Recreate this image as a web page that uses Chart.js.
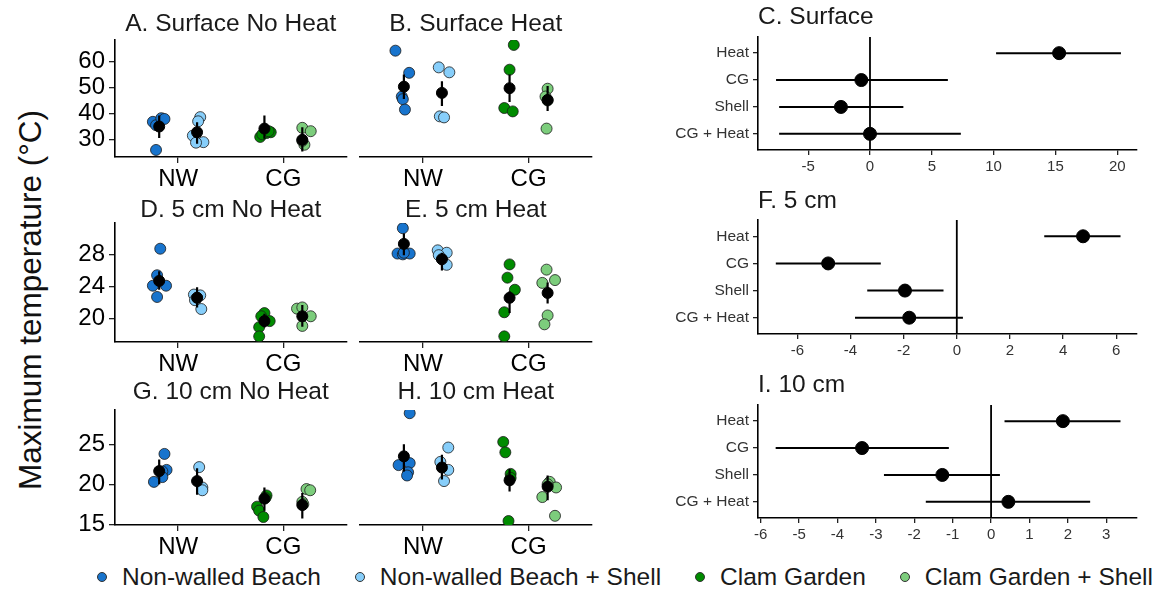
<!DOCTYPE html>
<html>
<head>
<meta charset="utf-8">
<script src="https://cdn.jsdelivr.net/npm/chart.js@4.4.1/dist/chart.umd.min.js"></script>
<style>
  body { margin: 0; background: #fff; width: 1161px; height: 590px; position: relative; overflow: hidden;
         font-family: "Liberation Sans", Arial, Helvetica, sans-serif; }
  canvas { position: absolute; }
  #ytitle { position: absolute; left: 30px; top: 300px; transform: translate(-50%, -50%) rotate(-90deg);
            font-size: 31.5px; white-space: nowrap; color: #111; }
  #legend { position: absolute; left: 97px; top: 563px; width: 1064px; height: 28px; display: flex;
            justify-content: flex-start; align-items: center; font-size: 24.5px; color: #1a1a1a;
            white-space: nowrap; }
  .item { display: flex; align-items: center; margin-right: 34px; flex: none; }
  .item:last-child { margin-right: 0; }
  .dot { width: 8px; height: 8px; border-radius: 50%; border: 1px solid #333; margin-right: 15px; flex: none; }
</style>
</head>
<body>
<div id="ytitle">Maximum temperature (°C)</div>
<div id="legend"></div>
<script>
// groups and sites
const groups = ['Non-walled Beach', 'Non-walled Beach + Shell', 'Clam Garden', 'Clam Garden + Shell'];
const groupColors = ['#1874CD', '#87CEFA', '#008B00', '#7CCD7C'];
const sites = ['NW', 'CG'];
const groupPos = [0.82, 1.18, 1.82, 2.18];

// A. Surface No Heat
const surfNoHeatPts = [
  [36.8, 35.5, 38.2, 37.9, 26.0],
  [38.6, 37.0, 31.5, 29.0, 28.8],
  [31.0, 32.5, 32.8, 32.0, 33.2],
  [34.5, 33.2, 28.0, 29.5]
];
const surfNoHeatJit = [
  [-0.06, -0.03, 0.02, 0.05, -0.03],
  [0.03, 0.01, -0.04, 0.06, -0.01],
  [-0.04, 0.02, 0.06, -0.02, 0.04],
  [0.0, 0.08, 0.02, 0.0]
];
const surfNoHeatMean = [35.0, 32.8, 34.2, 29.9];
const surfNoHeatLo = [30.6, 28.4, 30.3, 25.4];
const surfNoHeatHi = [39.2, 36.6, 39.2, 34.7];

// B. Surface Heat
const surfHeatPts = [
  [64.1, 55.6, 46.5, 45.5, 41.5],
  [57.7, 55.8, 38.9, 38.5],
  [66.3, 56.8, 42.1, 40.8],
  [49.5, 46.5, 45.0, 34.2]
];
const surfHeatJit = [
  [-0.08, 0.05, -0.02, -0.01, 0.01],
  [-0.03, 0.07, -0.02, 0.02],
  [0.04, 0.0, -0.05, 0.03],
  [0.0, -0.02, 0.0, -0.01]
];
const surfHeatMean = [50.3, 47.9, 49.7, 45.2];
const surfHeatLo = [45.6, 42.9, 44.4, 41.0];
const surfHeatHi = [55.0, 52.4, 55.0, 50.5];

// D. 5 cm No Heat
const cm5NoHeatPts = [
  [28.7, 25.4, 24.1, 24.1, 22.7],
  [23.0, 22.9, 22.6, 22.3, 21.2],
  [20.7, 20.3, 19.7, 18.95, 17.8],
  [21.25, 21.4, 20.3, 19.1]
];
const cm5NoHeatJit = [
  [0.01, -0.02, -0.06, 0.065, -0.02],
  [-0.03, 0.03, 0.0, -0.02, 0.04],
  [0.0, -0.03, 0.05, -0.05, -0.05],
  [-0.05, 0.0, 0.08, 0.0]
];
const cm5NoHeatMean = [24.7, 22.6, 19.7, 20.3];
const cm5NoHeatLo = [23.6, 21.4, 18.9, 19.0];
const cm5NoHeatHi = [25.9, 23.9, 20.6, 21.7];

// E. 5 cm Heat
const cm5HeatPts = [
  [31.25, 28.1, 28.0, 28.1, 28.2],
  [28.5, 28.2, 27.4, 26.7, 27.9],
  [26.75, 25.1, 23.6, 20.8, 17.8],
  [26.1, 24.8, 24.45, 20.4, 19.3]
];
const cm5HeatJit = [
  [-0.01, -0.06, -0.01, 0.055, 0.0],
  [-0.04, 0.045, 0.0, 0.045, -0.03],
  [0.0, -0.02, 0.05, -0.05, -0.05],
  [-0.01, 0.07, -0.05, 0.0, -0.03]
];
const cm5HeatMean = [29.3, 27.4, 22.6, 23.2];
const cm5HeatLo = [27.9, 26.0, 20.7, 21.9];
const cm5HeatHi = [30.6, 28.2, 23.4, 24.5];

// G. 10 cm No Heat
const cm10NoHeatPts = [
  [23.8, 21.8, 21.6, 20.9, 20.3],
  [22.15, 19.6, 19.25],
  [17.2, 16.7, 15.9, 18.6, 18.3],
  [19.4, 19.25, 17.8, 17.5]
];
const cm10NoHeatJit = [
  [0.05, 0.07, 0.03, 0.03, -0.05],
  [0.02, 0.05, 0.05],
  [-0.07, -0.05, -0.01, 0.02, 0.01],
  [0.04, 0.075, 0.0, 0.01]
];
const cm10NoHeatMean = [21.65, 20.4, 18.2, 17.4];
const cm10NoHeatLo = [20.0, 18.7, 16.7, 15.7];
const cm10NoHeatHi = [23.1, 22.0, 19.6, 18.9];

// H. 10 cm Heat
const cm10HeatPts = [
  [28.9, 22.4, 22.65, 21.5, 21.1],
  [24.6, 22.8, 21.8, 20.4],
  [25.3, 24.0, 21.3, 20.8, 15.4],
  [20.3, 19.6, 18.4, 16.05, 20.0]
];
const cm10HeatJit = [
  [0.055, -0.05, 0.055, 0.04, 0.03],
  [0.06, -0.015, 0.06, 0.02],
  [-0.06, -0.04, 0.01, 0.01, -0.01],
  [0.02, 0.08, -0.05, 0.07, 0.0]
];
const cm10HeatMean = [23.5, 22.1, 20.5, 19.7];
const cm10HeatLo = [21.6, 20.6, 19.1, 18.0];
const cm10HeatHi = [25.0, 23.7, 21.9, 21.1];

// y ticks per depth
const surfTicks = [30, 40, 50, 60];
const cm5Ticks = [20, 24, 28];
const cm10Ticks = [15, 20, 25];

// coefficient panels
const terms = ['Heat', 'CG', 'Shell', 'CG + Heat'];
const surfEst = [15.3, -0.7, -2.35, 0.0];
const surfCiLo = [10.2, -7.6, -7.35, -7.35];
const surfCiHi = [20.3, 6.3, 2.7, 7.35];
const surfXTicks = [-5, 0, 5, 10, 15, 20];

const cm5Est = [4.75, -4.84, -1.95, -1.79];
const cm5CiLo = [3.29, -6.81, -3.37, -3.83];
const cm5CiHi = [6.16, -2.86, -0.5, 0.23];
const cm5XTicks = [-6, -4, -2, 0, 2, 4, 6];

const cm10Est = [1.87, -3.36, -1.27, 0.45];
const cm10CiLo = [0.35, -5.61, -2.79, -1.70];
const cm10CiHi = [3.37, -1.10, 0.23, 2.58];
const cm10XTicks = [-6, -5, -4, -3, -2, -1, 0, 1, 2, 3];

const fontFam = '"Liberation Sans", Arial, Helvetica, sans-serif';

// title drawn relative to the plot area
const panelTitle = {
  id: 'panelTitle',
  afterDraw(chart, args, opts) {
    const { ctx, chartArea } = chart;
    ctx.save();
    ctx.font = '24.5px ' + fontFam;
    ctx.fillStyle = '#1a1a1a';
    ctx.textBaseline = 'middle';
    ctx.textAlign = opts.align;
    const x = opts.align === 'center' ? (chartArea.left + chartArea.right) / 2 : chartArea.left;
    ctx.fillText(opts.text, x, chartArea.top - opts.offset);
    ctx.restore();
  }
};

function addCanvas(left, top, width, height) {
  const c = document.createElement('canvas');
  c.width = width;
  c.height = height;
  c.style.left = left + 'px';
  c.style.top = top + 'px';
  document.body.appendChild(c);
  return c;
}

const axisGrid = len => ({ display: true, drawOnChartArea: false, drawTicks: true, tickLength: len, color: '#222', lineWidth: 1.3 });
const axisBorder = { display: true, color: '#000', width: 1.6 };

function scatterPanel(cfg) {
  const canvas = addCanvas(cfg.left, cfg.top, cfg.width, cfg.height);
  const datasets = [];
  cfg.pts.forEach((vals, g) => {
    datasets.push({
      data: vals.map((v, i) => ({ x: groupPos[g] + cfg.jit[g][i], y: v })),
      backgroundColor: groupColors[g],
      borderColor: '#1a1a1a',
      borderWidth: 0.8,
      pointRadius: 5.5,
      order: 2
    });
    datasets.push({
      data: [{ x: groupPos[g], y: cfg.lo[g] }, { x: groupPos[g], y: cfg.hi[g] }],
      showLine: true,
      borderColor: '#000',
      borderWidth: 2.2,
      pointRadius: 0,
      order: 1
    });
  });
  datasets.push({
    data: cfg.mean.map((m, g) => ({ x: groupPos[g], y: m })),
    backgroundColor: '#000',
    borderColor: '#000',
    pointRadius: 5.5,
    order: 0
  });

  new Chart(canvas, {
    type: 'scatter',
    data: { datasets },
    options: {
      responsive: false,
      animation: false,
      events: [],
      layout: { padding: { top: cfg.padTop, left: cfg.showY ? 0 : 4, right: cfg.padRight, bottom: 0 } },
      plugins: {
        legend: { display: false },
        tooltip: { enabled: false },
        panelTitle: { text: cfg.title, align: 'center', offset: cfg.titleOffset }
      },
      scales: {
        x: {
          type: 'linear', min: 0.4, max: 2.6,
          afterBuildTicks: s => { s.ticks = [{ value: 1 }, { value: 2 }]; },
          afterFit: s => { s.height = 38; },
          ticks: { callback: (v, i) => sites[i], font: { size: 24, family: fontFam }, color: '#000', padding: 2, maxRotation: 0 },
          grid: axisGrid(6),
          border: axisBorder
        },
        y: {
          type: 'linear', min: cfg.yMin, max: cfg.yMax,
          display: cfg.showY,
          afterBuildTicks: s => { s.ticks = cfg.yTicks.map(v => ({ value: v })); },
          afterFit: s => { s.width = cfg.showY ? 65 : 0; },
          ticks: { font: { size: 24, family: fontFam }, color: '#000', padding: 4 },
          grid: axisGrid(6),
          border: axisBorder
        }
      }
    },
    plugins: [panelTitle]
  });
}

function coefPanel(cfg) {
  const canvas = addCanvas(600, cfg.top, 561, cfg.height);
  const datasets = [];
  cfg.est.forEach((e, i) => {
    datasets.push({
      data: [{ x: cfg.lo[i], y: i + 1 }, { x: cfg.hi[i], y: i + 1 }],
      showLine: true,
      borderColor: '#000',
      borderWidth: 2,
      pointRadius: 0,
      order: 1
    });
  });
  datasets.push({
    data: [{ x: 0, y: 0.4 }, { x: 0, y: 4.6 }],
    showLine: true,
    borderColor: '#000',
    borderWidth: 1.8,
    pointRadius: 0,
    order: 2
  });
  datasets.push({
    data: cfg.est.map((e, i) => ({ x: e, y: i + 1 })),
    backgroundColor: '#000',
    borderColor: '#000',
    pointRadius: 6.5,
    order: 0
  });

  new Chart(canvas, {
    type: 'scatter',
    data: { datasets },
    options: {
      responsive: false,
      animation: false,
      events: [],
      layout: { padding: { top: cfg.padTop, left: 0, right: 24, bottom: 0 } },
      plugins: {
        legend: { display: false },
        tooltip: { enabled: false },
        panelTitle: { text: cfg.title, align: 'left', offset: cfg.titleOffset }
      },
      scales: {
        x: {
          type: 'linear', min: cfg.xMin, max: cfg.xMax,
          afterBuildTicks: s => { s.ticks = cfg.xTicks.map(v => ({ value: v })); },
          afterFit: s => { s.height = 35; },
          ticks: { font: { size: 15, family: fontFam }, color: '#333', padding: 3, maxRotation: 0 },
          grid: axisGrid(5),
          border: axisBorder
        },
        y: {
          type: 'linear', min: 0.4, max: 4.6, reverse: true,
          afterBuildTicks: s => { s.ticks = [1, 2, 3, 4].map(v => ({ value: v })); },
          afterFit: s => { s.width = 158; },
          ticks: { callback: (v, i) => terms[i], font: { size: 15.5, family: fontFam }, color: '#333', padding: 4 },
          grid: axisGrid(5),
          border: axisBorder
        }
      }
    },
    plugins: [panelTitle]
  });
}

// left block: scatter panels
scatterPanel({ left: 50, top: 0, width: 303, height: 195, padTop: 40, padRight: 3, showY: true,
  title: 'A. Surface No Heat', titleOffset: 16, yMin: 23.3, yMax: 68.2, yTicks: surfTicks,
  pts: surfNoHeatPts, jit: surfNoHeatJit, mean: surfNoHeatMean, lo: surfNoHeatLo, hi: surfNoHeatHi });
scatterPanel({ left: 353, top: 0, width: 249, height: 195, padTop: 40, padRight: 10, showY: false,
  title: 'B. Surface Heat', titleOffset: 16, yMin: 23.3, yMax: 68.2, yTicks: surfTicks,
  pts: surfHeatPts, jit: surfHeatJit, mean: surfHeatMean, lo: surfHeatLo, hi: surfHeatHi });

scatterPanel({ left: 50, top: 195, width: 303, height: 185, padTop: 28, padRight: 3, showY: true,
  title: 'D. 5 cm No Heat', titleOffset: 13, yMin: 17.1, yMax: 31.9, yTicks: cm5Ticks,
  pts: cm5NoHeatPts, jit: cm5NoHeatJit, mean: cm5NoHeatMean, lo: cm5NoHeatLo, hi: cm5NoHeatHi });
scatterPanel({ left: 353, top: 195, width: 249, height: 185, padTop: 28, padRight: 10, showY: false,
  title: 'E. 5 cm Heat', titleOffset: 13, yMin: 17.1, yMax: 31.9, yTicks: cm5Ticks,
  pts: cm5HeatPts, jit: cm5HeatJit, mean: cm5HeatMean, lo: cm5HeatLo, hi: cm5HeatHi });

scatterPanel({ left: 50, top: 380, width: 303, height: 183, padTop: 30, padRight: 3, showY: true,
  title: 'G. 10 cm No Heat', titleOffset: 18, yMin: 14.9, yMax: 29.3, yTicks: cm10Ticks,
  pts: cm10NoHeatPts, jit: cm10NoHeatJit, mean: cm10NoHeatMean, lo: cm10NoHeatLo, hi: cm10NoHeatHi });
scatterPanel({ left: 353, top: 380, width: 249, height: 183, padTop: 30, padRight: 10, showY: false,
  title: 'H. 10 cm Heat', titleOffset: 18, yMin: 14.9, yMax: 29.3, yTicks: cm10Ticks,
  pts: cm10HeatPts, jit: cm10HeatJit, mean: cm10HeatMean, lo: cm10HeatLo, hi: cm10HeatHi });

// right block: model estimates
coefPanel({ top: 0, height: 185, padTop: 37, title: 'C. Surface', titleOffset: 20,
  xMin: -9.06, xMax: 21.6, xTicks: surfXTicks, est: surfEst, lo: surfCiLo, hi: surfCiHi });
coefPanel({ top: 185, height: 184, padTop: 35, title: 'F. 5 cm', titleOffset: 19,
  xMin: -7.48, xMax: 6.78, xTicks: cm5XTicks, est: cm5Est, lo: cm5CiLo, hi: cm5CiHi });
coefPanel({ top: 369, height: 184, padTop: 36, title: 'I. 10 cm', titleOffset: 20,
  xMin: -6.07, xMax: 3.8, xTicks: cm10XTicks, est: cm10Est, lo: cm10CiLo, hi: cm10CiHi });

// shared legend
const legendEl = document.getElementById('legend');
groups.forEach((name, g) => {
  const item = document.createElement('div');
  item.className = 'item';
  const dot = document.createElement('span');
  dot.className = 'dot';
  dot.style.background = groupColors[g];
  const label = document.createElement('span');
  label.textContent = name;
  item.appendChild(dot);
  item.appendChild(label);
  legendEl.appendChild(item);
});
</script>
</body>
</html>
